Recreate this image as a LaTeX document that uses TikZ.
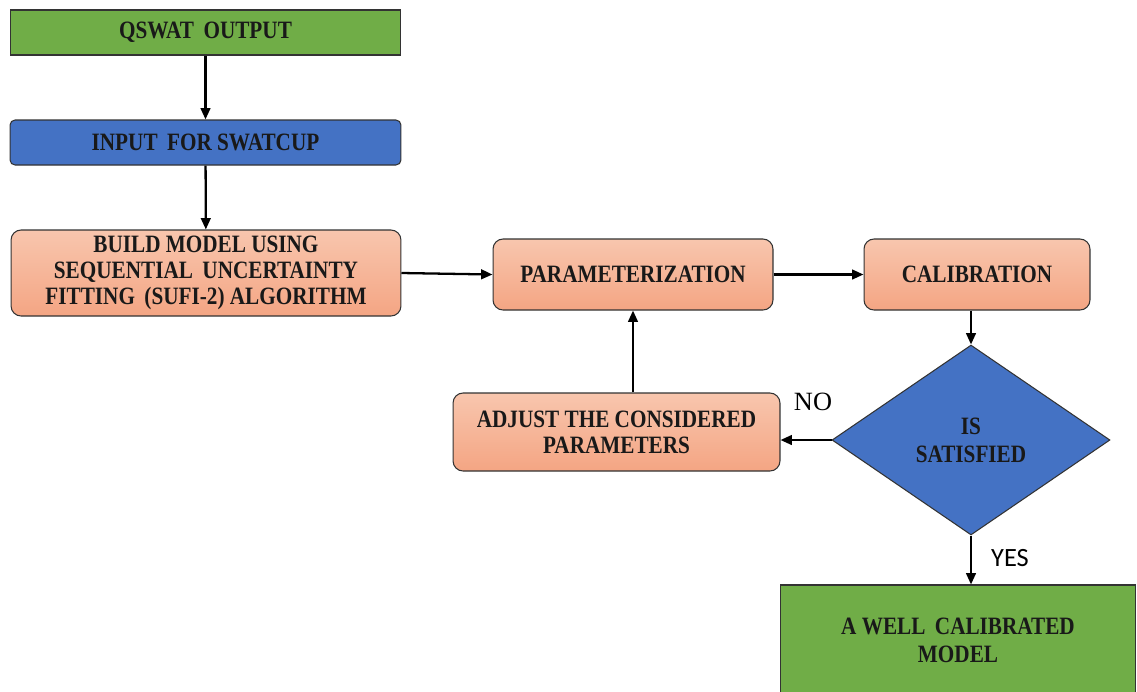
\documentclass[tikz,border=0pt]{standalone}
\usepackage{fontspec}
\setmainfont{Liberation Serif}
\newfontfamily\boxfont[FakeStretch=0.85]{Liberation Serif}
\newfontfamily\yesfont{Carlito}
\usetikzlibrary{shapes.geometric,arrows.meta}
\definecolor{boxgreen}{RGB}{112,173,71}
\definecolor{boxblue}{RGB}{68,114,196}
\definecolor{peachtop}{RGB}{248,198,174}
\definecolor{peachbot}{RGB}{244,165,131}

\begin{document}
\begin{tikzpicture}[x=0.02cm,y=-0.02cm,
    box/.style={rectangle,draw=black!80,line width=0.6pt,align=center,inner sep=0pt,
      font=\boxfont\fontsize{14.2}{14.8}\selectfont\bfseries,text=black!90},
    greenbox/.style={box,fill=boxgreen},
    bluebox/.style={box,fill=boxblue,rounded corners=0.1cm},
    peachbox/.style={box,top color=peachtop,bottom color=peachbot,rounded corners=0.2cm}]

      \useasboundingbox (0,0) rectangle (1137,691);
      \clip (0,0) rectangle (1137,691);

      \begin{scope}
        \node[greenbox,minimum width=7.82cm,minimum height=0.9cm] (1) at (205.5,32.5) {QSWAT\, OUTPUT};
        \node[bluebox,minimum width=7.82cm,minimum height=0.9cm] (2) at (205.5,142.5) {INPUT\, FOR SWATCUP};
        \node[peachbox,minimum width=7.8cm,minimum height=1.72cm] (3) at (206,273)
          {BUILD MODEL USING\\SEQUENTIAL\, UNCERTAINTY\\FITTING\, (SUFI-2) ALGORITHM};
        \node[peachbox,minimum width=5.6cm,minimum height=1.42cm] (4) at (633,274.5) {PARAMETERIZATION};
        \node[peachbox,minimum width=6.54cm,minimum height=1.56cm] (5) at (616.5,432)
          {ADJUST THE CONSIDERED\\PARAMETERS};
        \node[peachbox,minimum width=4.52cm,minimum height=1.42cm] (6) at (977,274.5) {CALIBRATION};
        \node[box,diamond,fill=boxblue,aspect=1.463,minimum width=5.56cm,minimum height=3.8cm,
          font=\boxfont\fontsize{14.2}{16}\selectfont\bfseries] (7) at (971,440) {IS\\SATISFIED};
        \node[greenbox,minimum width=7.12cm,minimum height=2.2cm,
          font=\boxfont\fontsize{14.2}{16}\selectfont\bfseries] (8) at (958,640)
          {A WELL\, CALIBRATED\\MODEL};
      \end{scope}

      \begin{scope}[every edge/.style={draw,line width=1.3pt,-{Triangle[length=6.5pt,width=5.5pt]}}]
        \path (1) edge (2);
        \path (2) edge (3);
        \path (3.east) edge (4.west);
        \path (4) edge (6);
        \path (6.south -| 7.north) edge (7.north);
        \path (7.west) edge (7.west -| 5.east);
        \path (5.north -| 4.south) edge (4.south);
        \path (7.south) edge (7.south |- 8.north);
      \end{scope}

      % branch labels
      \node[font=\fontsize{15}{16}\selectfont] (no) at (813,402) {NO};
      \node[font=\fontsize{15}{16}\selectfont\yesfont] (yes) at (1010,558) {YES};

    \end{tikzpicture}
\end{document}
